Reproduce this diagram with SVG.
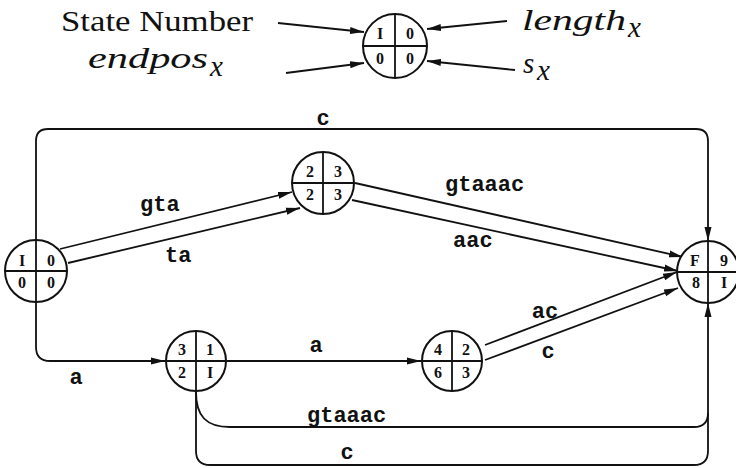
<svg xmlns="http://www.w3.org/2000/svg" width="736" height="468" viewBox="0 0 736 468">
<style>
.ln{fill:none;stroke:#111;stroke-width:1.8}
.nd circle{fill:#fff;stroke:#111;stroke-width:2}
.nd line{stroke:#111;stroke-width:1.8}
.cell{font-family:"Liberation Serif",serif;font-weight:bold;font-size:16px;fill:#111;text-anchor:middle}
.lbl{font-family:"Liberation Mono",monospace;font-weight:bold;font-size:22px;fill:#111}
.leg{font-family:"Liberation Serif",serif;font-size:29px;fill:#111}
.it{font-style:italic}
</style>
<defs>
<marker id="ah" viewBox="0 0 14 8" refX="14" refY="4" markerWidth="14" markerHeight="8" orient="auto" markerUnits="userSpaceOnUse"><path d="M0,0.5 L14,4 L0,7.5 Z" fill="#111"/></marker>
</defs>

<g id="legend">
<text class="leg" x="61" y="31" textLength="192" lengthAdjust="spacingAndGlyphs">State Number</text>
<text class="leg it" x="88" y="68" textLength="120" lengthAdjust="spacingAndGlyphs">endpos</text>
<text class="leg it" x="210" y="76" font-size="20">x</text>
<text class="leg it" x="522" y="30" textLength="104" lengthAdjust="spacingAndGlyphs">length</text>
<text class="leg it" x="628" y="37" font-size="20">x</text>
<text class="leg it" x="523" y="73">s</text>
<text class="leg it" x="537" y="80" font-size="20">x</text>
<g class="ln">
<path d="M278,23 L364,32" marker-end="url(#ah)"/>
<path d="M286,73 L364,63" marker-end="url(#ah)"/>
<path d="M507,21 L427,29" marker-end="url(#ah)"/>
<path d="M515,70 L427,61" marker-end="url(#ah)"/>
</g>
<g id="legend-node" class="nd">
<circle cx="395" cy="46" r="32"/>
<line x1="395" y1="14" x2="395" y2="78"/><line x1="363" y1="46" x2="427" y2="46"/>
<text class="cell" x="380" y="39">I</text><text class="cell" x="410" y="39">0</text>
<text class="cell" x="380" y="64">0</text><text class="cell" x="410" y="64">0</text>
</g>
</g>

<g id="connectors">
<g class="ln">
<path d="M36,240 V141 Q36,129 48,129 H696 Q708,129 708,141 V241" marker-end="url(#ah)"/>
<path d="M60,249 L292,192" marker-end="url(#ah)"/>
<path d="M68,263 L300,208" marker-end="url(#ah)"/>
<path d="M355,183 L683,257" marker-end="url(#ah)"/>
<path d="M352,200 L678,271" marker-end="url(#ah)"/>
<path d="M36,302 V347 Q36,361 50,361 H165" marker-end="url(#ah)"/>
<path d="M227,361 H421" marker-end="url(#ah)"/>
<path d="M485,345 L677,272" marker-end="url(#ah)"/>
<path d="M485,360 L678,288" marker-end="url(#ah)"/>
<path d="M196,392 C196,416 206,427 230,427 H694 Q708,427 708,413 V303" marker-end="url(#ah)"/>
<path d="M196,392 V451 Q196,465 210,465 H694 Q708,465 708,451 V413"/>
</g>
<text class="lbl" x="323" y="125" text-anchor="middle">c</text>
<text class="lbl" x="140" y="211">gta</text>
<text class="lbl" x="165" y="262">ta</text>
<text class="lbl" x="445" y="191">gtaaac</text>
<text class="lbl" x="453" y="247">aac</text>
<text class="lbl" x="76" y="384" text-anchor="middle">a</text>
<text class="lbl" x="316" y="352" text-anchor="middle">a</text>
<text class="lbl" x="545" y="318" text-anchor="middle">ac</text>
<text class="lbl" x="548" y="358" text-anchor="middle">c</text>
<text class="lbl" x="307" y="422">gtaaac</text>
<text class="lbl" x="347" y="459" text-anchor="middle">c</text>
</g>

<g id="node-I" class="nd">
<circle cx="36" cy="271" r="31"/>
<line x1="36" y1="240" x2="36" y2="302"/><line x1="5" y1="271" x2="67" y2="271"/>
<text class="cell" x="22" y="266">I</text><text class="cell" x="51" y="266">0</text>
<text class="cell" x="22" y="288">0</text><text class="cell" x="51" y="288">0</text>
</g>
<g id="node-23" class="nd">
<circle cx="323" cy="183" r="31"/>
<line x1="323" y1="152" x2="323" y2="214"/><line x1="292" y1="183" x2="354" y2="183"/>
<text class="cell" x="310" y="177">2</text><text class="cell" x="338" y="177">3</text>
<text class="cell" x="310" y="200">2</text><text class="cell" x="338" y="200">3</text>
</g>
<g id="node-F" class="nd">
<circle cx="708" cy="272" r="31"/>
<line x1="708" y1="241" x2="708" y2="303"/><line x1="677" y1="272" x2="739" y2="272"/>
<text class="cell" x="695" y="266">F</text><text class="cell" x="724" y="266">9</text>
<text class="cell" x="696" y="288">8</text><text class="cell" x="724" y="288">I</text>
</g>
<g id="node-31" class="nd">
<circle cx="196" cy="361" r="30"/>
<line x1="196" y1="331" x2="196" y2="391"/><line x1="166" y1="361" x2="226" y2="361"/>
<text class="cell" x="182" y="355">3</text><text class="cell" x="210" y="355">1</text>
<text class="cell" x="182" y="378">2</text><text class="cell" x="210" y="378">I</text>
</g>
<g id="node-42" class="nd">
<circle cx="452" cy="361" r="30"/>
<line x1="452" y1="331" x2="452" y2="391"/><line x1="422" y1="361" x2="482" y2="361"/>
<text class="cell" x="438" y="355">4</text><text class="cell" x="466" y="355">2</text>
<text class="cell" x="438" y="378">6</text><text class="cell" x="466" y="378">3</text>
</g>
</svg>
